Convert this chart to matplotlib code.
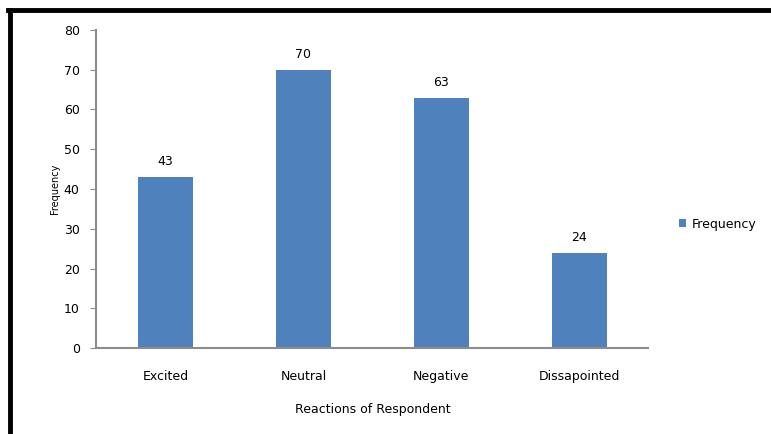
import matplotlib.pyplot as plt
from matplotlib.lines import Line2D

reactions = ["Excited", "Neutral", "Negative", "Dissapointed"]
frequency = [43, 70, 63, 24]
y_ticks = [0, 10, 20, 30, 40, 50, 60, 70, 80]

bar_color = "#4f81bd"
axis_gray = "#8c8c8c"

fig = plt.figure(figsize=(7.71, 4.34), dpi=100)
ax = fig.add_axes([0.125, 0.198, 0.716, 0.733])

x = range(len(reactions))
bars = ax.bar(x, frequency, width=0.4, color=bar_color, label="Frequency")

for b, v in zip(bars, frequency):
    ax.text(b.get_x() + b.get_width() / 2, v + 2.2, str(v),
            ha="center", va="bottom", fontsize=9)

ax.set_xlim(-0.5, len(reactions) - 0.5)
ax.set_ylim(0, 80)
ax.set_yticks(y_ticks)
ax.set_xticks(list(x))
ax.set_xticklabels(reactions, fontsize=9)
ax.tick_params(axis="y", labelsize=9, length=4, color=axis_gray, pad=8)
ax.tick_params(axis="x", length=0, pad=16)

for side in ["top", "right"]:
    ax.spines[side].set_visible(False)
for side in ["left", "bottom"]:
    ax.spines[side].set_color(axis_gray)
    ax.spines[side].set_linewidth(1.5)

ax.set_xlabel("Reactions of Respondent", fontsize=9, labelpad=14)
ax.set_ylabel("Frequency", fontsize=7, labelpad=3)

ax.legend(loc="center left", bbox_to_anchor=(1.035, 0.39), frameon=False,
          fontsize=9, handlelength=0.6, handleheight=0.6, handletextpad=0.4)

# black frame along the top and left edges
fig.add_artist(Line2D([0.011, 1.0], [0.977, 0.977], color="black", lw=3.5,
                      transform=fig.transFigure))
fig.add_artist(Line2D([0.013, 0.013], [0.0, 0.977], color="black", lw=3.5,
                      transform=fig.transFigure))

fig.savefig("out.png", dpi=100)
